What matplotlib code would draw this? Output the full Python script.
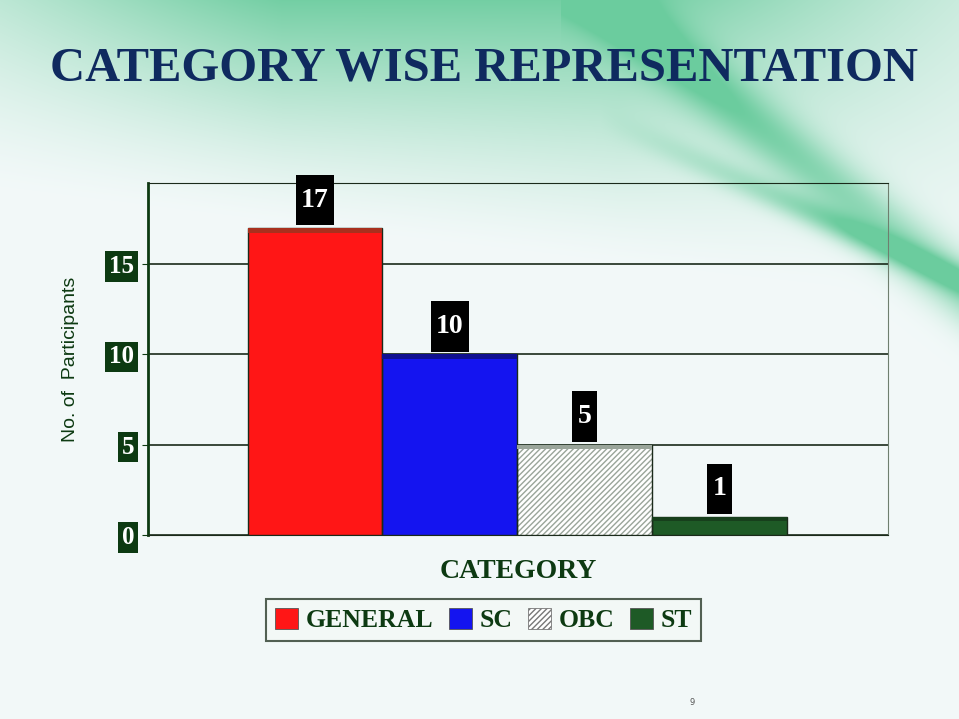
import matplotlib.pyplot as plt
import numpy as np
from matplotlib.patches import Patch, Rectangle

categories = ["GENERAL", "SC", "OBC", "ST"]
participants = [17, 10, 5, 1]
yticks = [0, 5, 10, 15]

fill_colors = ["#ff1616", "#1414f0", "#ffffff", "#1e5a26"]
top_colors = ["#a8301e", "#101090", "#9aa59a", "#173f1c"]
hatches = [None, None, "//////", None]

dark_green = "#0d3a12"
navy = "#0f2a5f"
serif = ["Liberation Serif", "DejaVu Serif"]

fig = plt.figure(figsize=(9.59, 7.19), dpi=100)

# slide background: white with a green swoosh at the top
H, W = 719, 959
yy, xx = np.mgrid[0:H, 0:W].astype(float)
top = np.clip(1 - yy / (190 + 0.12 * xx), 0, 1) ** 1.4
top *= np.clip(np.exp(-((xx - 450) / 450) ** 2) * 1.15, 0, 1)
d = (yy - (0 + (xx - 600) * 0.8)) / np.hypot(1, 0.8)
streak = np.exp(-(d / 28) ** 2) * (xx > 560) * 0.55
d2 = (yy - (140 + (xx - 650) * 0.45)) / np.hypot(1, 0.45)
streak2 = np.exp(-(d2 / 14) ** 2) * (xx > 600) * np.clip((xx - 600) / 250, 0, 1) * 0.6
a = np.clip(top * 0.8 + streak + streak2, 0, 0.85)[..., None]
base = np.array([0.95, 0.975, 0.975])
green = np.array([0.33, 0.77, 0.56])
bg = base * (1 - a) + green * a
bax = fig.add_axes([0, 0, 1, 1], zorder=-10)
bax.imshow(bg, aspect="auto", extent=[0, 1, 0, 1])
bax.axis("off")

fig.text(0.505, 0.905, "CATEGORY WISE REPRESENTATION", ha="center", va="center",
         fontsize=35, fontweight="bold", color=navy, family=serif)
fig.text(0.722, 0.02, "9", fontsize=6, color="#555555", ha="center")

ax = fig.add_axes([0.1543, 0.2559, 0.7716, 0.4896])
ax.set_facecolor("none")
x = np.arange(len(categories))
ax.bar(x, participants, width=1.0, color=fill_colors, edgecolor="#9aa59a",
       hatch=hatches, linewidth=0, zorder=3)
ax.bar(x, participants, width=1.0, color="none", edgecolor="#1a2a1a",
       linewidth=1.0, zorder=4)
strip = 0.25
ax.bar(x, [strip] * len(x), bottom=np.array(participants) - strip, width=1.0,
       color=top_colors, linewidth=0, zorder=4)

# black value boxes standing on the bar tops
box_h = 2.8
for xi, v in zip(x, participants):
    bw = 0.1 + 0.09 * len(str(v))
    ax.add_patch(Rectangle((xi - bw / 2, v + 0.15), bw, box_h, fc="black", ec="none",
                           zorder=5, clip_on=False))
    ax.text(xi, v + 0.15 + box_h / 2, str(v), ha="center", va="center", color="white",
            fontsize=20, fontweight="bold", family=serif, zorder=6, clip_on=False)

ax.set_xlim(-1.24, 4.25)
ax.set_ylim(0, 19.5)
ax.set_yticks(yticks)
ax.set_xticks([])
ax.yaxis.grid(True, color="#1a2a1a", linewidth=1.2, zorder=1)
ax.tick_params(axis="y", length=4, color=dark_green, pad=6)
for t in ax.get_yticklabels():
    t.set_fontfamily(serif)
    t.set_fontweight("bold")
    t.set_fontsize(18)
    t.set_color("white")
    t.set_bbox(dict(boxstyle="square,pad=0.15", fc=dark_green, ec="none"))

ax.spines["left"].set_color(dark_green)
ax.spines["left"].set_linewidth(2)
ax.spines["top"].set_color("#1a2a1a")
ax.spines["right"].set_color("#6f7f6f")
ax.spines["bottom"].set_color("#1a2a1a")

ax.set_ylabel("No. of  Participants", fontsize=14, color=dark_green,
              family=["Liberation Sans", "DejaVu Sans"], labelpad=22)
ax.set_xlabel("CATEGORY", fontsize=20, fontweight="bold", color=dark_green,
              family=serif, labelpad=17)

handles = [Patch(facecolor=c, edgecolor="#555555", linewidth=0.6) for c in fill_colors]
handles[2] = Patch(facecolor="white", edgecolor="#777777", hatch="//////", linewidth=0.6)
leg = fig.legend(handles, categories, loc="center", bbox_to_anchor=(0.504, 0.1377),
                 ncol=4, frameon=True, fancybox=False, handlelength=0.9,
                 handleheight=0.9, handletextpad=0.3, columnspacing=0.6,
                 borderpad=0.35, prop=dict(family=serif, weight="bold", size=18.5))
leg.get_frame().set_edgecolor("#2a3a2a")
leg.get_frame().set_linewidth(1.5)
leg.get_frame().set_facecolor("#f4f8f6")
for t in leg.get_texts():
    t.set_color(dark_green)

fig.savefig("out.png", dpi=100)
